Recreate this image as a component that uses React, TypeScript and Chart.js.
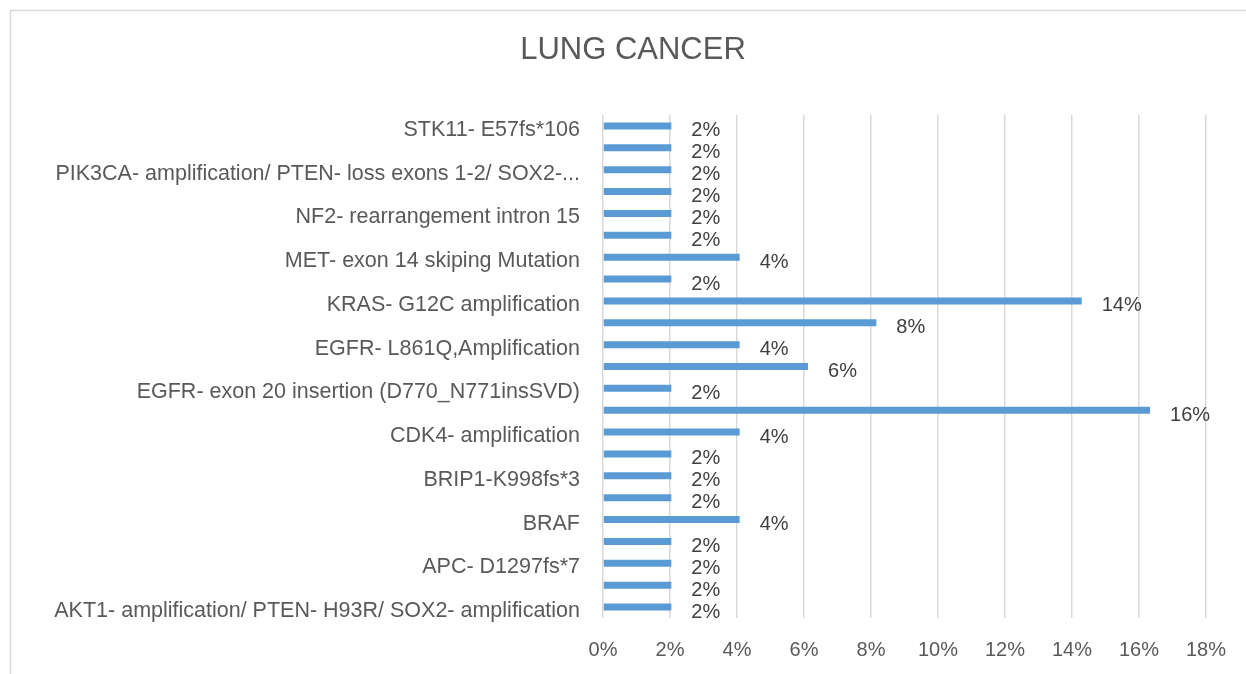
import React, { useEffect, useRef } from 'react';
import { Chart, registerables } from 'chart.js';

Chart.register(...registerables);

const TITLE = 'LUNG CANCER';

// bottom -> top (Excel order); hidden labels were skipped by the original axis
const categories = [
  'AKT1- amplification/ PTEN- H93R/ SOX2- amplification',
  '',
  'APC- D1297fs*7',
  '',
  'BRAF',
  '',
  'BRIP1-K998fs*3',
  '',
  'CDK4- amplification',
  '',
  'EGFR- exon 20 insertion (D770_N771insSVD)',
  '',
  'EGFR- L861Q,Amplification',
  '',
  'KRAS- G12C amplification',
  '',
  'MET- exon 14 skiping Mutation',
  '',
  'NF2- rearrangement intron 15',
  '',
  'PIK3CA- amplification/ PTEN- loss exons 1-2/ SOX2-...',
  '',
  'STK11- E57fs*106',
];

// percent values
const values = [
  2.04, 2.04, 2.04, 2.04, 4.08, 2.04, 2.04, 2.04, 4.08, 16.33, 2.04, 6.12,
  4.08, 8.16, 14.29, 2.04, 4.08, 2.04, 2.04, 2.04, 2.04, 2.04, 2.04,
];

const X_MIN = 0;
const X_MAX = 18;
const X_STEP = 2;

const FONT = '"Liberation Sans", Arial, sans-serif';

const borderPlugin = {
  id: 'outerBorder',
  beforeDraw(chart: any) {
    const { ctx } = chart;
    ctx.save();
    ctx.fillStyle = '#ffffff';
    ctx.fillRect(0, 0, chart.width, chart.height);
    ctx.strokeStyle = '#d9d9d9';
    ctx.lineWidth = 1.5;
    ctx.strokeRect(10.5, 10.5, chart.width + 50, chart.height + 50);
    ctx.restore();
  },
};

const titlePlugin = {
  id: 'centeredTitle',
  afterDraw(chart: any) {
    const { ctx } = chart;
    ctx.save();
    ctx.font = `31px ${FONT}`;
    ctx.fillStyle = '#595959';
    ctx.textAlign = 'center';
    ctx.textBaseline = 'alphabetic';
    ctx.fillText(TITLE, 633, 59);
    ctx.restore();
  },
};

const dataLabelPlugin = {
  id: 'barValueLabels',
  afterDatasetsDraw(chart: any) {
    const { ctx } = chart;
    const meta = chart.getDatasetMeta(0);
    const data = chart.data.datasets[0].data as number[];
    ctx.save();
    ctx.font = `20px ${FONT}`;
    ctx.fillStyle = '#404040';
    ctx.textAlign = 'left';
    ctx.textBaseline = 'middle';
    meta.data.forEach((bar: any, i: number) => {
      ctx.fillText(`${Math.round(data[i])}%`, bar.x + 20, bar.y + 5);
    });
    ctx.restore();
  },
};

export default function App() {
  const ref = useRef<HTMLCanvasElement>(null);

  useEffect(() => {
    document.body.style.margin = '0';
    const canvas = ref.current;
    if (!canvas) return;
    const chart = new Chart(canvas, {
      type: 'bar',
      data: {
        labels: categories,
        datasets: [
          {
            data: values,
            backgroundColor: '#5b9bd5',
            barPercentage: 0.32,
            categoryPercentage: 1,
          },
        ],
      },
      options: {
        indexAxis: 'y',
        responsive: false,
        animation: false,
        layout: { padding: { left: 0, right: 38, top: 115, bottom: 0 } },
        plugins: {
          legend: { display: false },
          tooltip: { enabled: false },
          title: { display: false },
        },
        scales: {
          x: {
            min: X_MIN,
            max: X_MAX,
            ticks: {
              stepSize: X_STEP,
              color: '#595959',
              font: { family: FONT, size: 20 },
              padding: 20,
              callback: (v: any) => `${v}%`,
            },
            grid: { color: '#d9d9d9', lineWidth: 1.5, drawTicks: false },
            border: { display: false },
            afterFit: (s: any) => {
              s.height = 56;
            },
          },
          y: {
            reverse: true,
            ticks: {
              autoSkip: false,
              color: '#595959',
              font: { family: FONT, size: 21.5 },
              padding: 23,
              labelOffset: 4,
            },
            grid: { display: false, drawTicks: false },
            border: { display: false },
            afterFit: (s: any) => {
              s.width = 603;
            },
          },
        },
      },
      plugins: [borderPlugin, dataLabelPlugin, titlePlugin],
    });
    return () => chart.destroy();
  }, []);

  return (
    <div style={{ width: 1246, height: 674 }}>
      <canvas ref={ref} width={1246} height={674} style={{ display: 'block' }} />
    </div>
  );
}
